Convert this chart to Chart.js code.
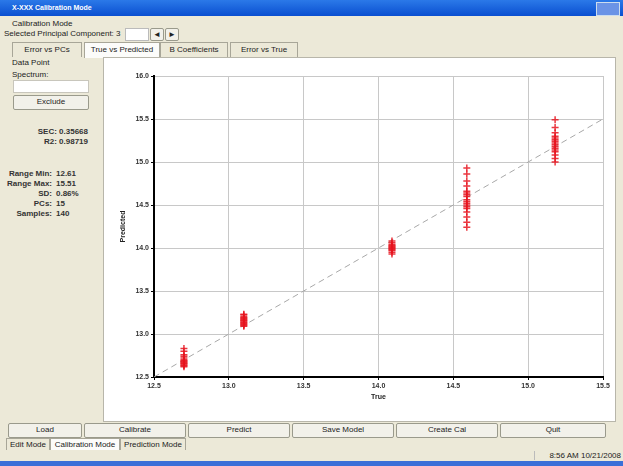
<!DOCTYPE html>
<html>
<head>
<meta charset="utf-8">
<script src="https://cdn.jsdelivr.net/npm/chart.js@4"></script>
<style>
  body { margin:0; width:623px; height:466px; background:#ece9d8; font-family:"Liberation Sans", Arial, sans-serif; font-size:8px; color:#222; position:relative; overflow:hidden; }
  .abs { position:absolute; }
  #titlebar { left:0; top:0; width:623px; height:16px; background:linear-gradient(#2b79e8,#0a4fd0); color:#fff; font-weight:bold; font-size:7px; line-height:16px; }
  #titlebar span { margin-left:12px; }
  #closebtn { right:3px; top:2px; width:22px; height:12px; background:#6a93e6; border:1px solid #cde; }
  .btn { background:#f2f1ea; border:1px solid #9a9a8c; border-radius:2px; text-align:center; line-height:12px; }
  .tab { border:1px solid #a8a698; border-bottom:none; text-align:center; line-height:13px; background:#ece9d8; }
  .tab.on { background:#fcfcfa; }
  #panel { left:103px; top:57px; width:511px; height:363px; background:#fff; border:1px solid #b8b6aa; }
  .r { text-align:right; }
  .b { font-weight:bold; color:#333; }
</style>
</head>
<body>
<div id="titlebar" class="abs"><span>X-XXX Calibration Mode</span></div>
<div id="closebtn" class="abs"></div>
<div class="abs" style="left:12px;top:19px;">Calibration Mode</div>
<div class="abs" style="left:4px;top:29px;">Selected Principal Component: 3</div>
<div class="abs" style="left:125px;top:28px;width:22px;height:11px;background:#fff;border:1px solid #bbb;"></div>
<div class="abs btn" style="left:150px;top:28px;width:12px;height:11px;line-height:11px;">◄</div>
<div class="abs btn" style="left:165px;top:28px;width:12px;height:11px;line-height:11px;">►</div>

<div class="abs tab" style="left:12px;top:42px;width:68px;height:14px;">Error vs PCs</div>
<div class="abs tab on" style="left:84px;top:42px;width:74px;height:15px;">True vs Predicted</div>
<div class="abs tab" style="left:160px;top:42px;width:66px;height:14px;">B Coefficients</div>
<div class="abs tab" style="left:230px;top:42px;width:66px;height:14px;">Error vs True</div>

<div class="abs" style="left:12px;top:58px;">Data Point</div>
<div class="abs" style="left:12px;top:70px;">Spectrum:</div>
<div class="abs" style="left:13px;top:80px;width:74px;height:11px;background:#fff;border:1px solid #c8c6bc;"></div>
<div class="abs btn" style="left:13px;top:95px;width:74px;height:13px;">Exclude</div>
<div class="abs r b" style="left:10px;top:127px;width:78px;">SEC: 0.35668</div>
<div class="abs r b" style="left:10px;top:137px;width:78px;">R2: 0.98719</div>
<div class="abs r b" style="left:2px;top:169px;width:50px;">Range Min:</div><div class="abs b" style="left:56px;top:169px;">12.61</div>
<div class="abs r b" style="left:2px;top:179px;width:50px;">Range Max:</div><div class="abs b" style="left:56px;top:179px;">15.51</div>
<div class="abs r b" style="left:2px;top:189px;width:50px;">SD:</div><div class="abs b" style="left:56px;top:189px;">0.86%</div>
<div class="abs r b" style="left:2px;top:199px;width:50px;">PCs:</div><div class="abs b" style="left:56px;top:199px;">15</div>
<div class="abs r b" style="left:2px;top:209px;width:50px;">Samples:</div><div class="abs b" style="left:56px;top:209px;">140</div>

<div id="panel" class="abs"><canvas id="chart" width="511" height="363"></canvas></div>

<div class="abs btn" style="left:8px;top:423px;width:72px;height:13px;">Load</div>
<div class="abs btn" style="left:84px;top:423px;width:100px;height:13px;">Calibrate</div>
<div class="abs btn" style="left:188px;top:423px;width:100px;height:13px;">Predict</div>
<div class="abs btn" style="left:292px;top:423px;width:100px;height:13px;">Save Model</div>
<div class="abs btn" style="left:396px;top:423px;width:100px;height:13px;">Create Cal</div>
<div class="abs btn" style="left:500px;top:423px;width:104px;height:13px;">Quit</div>

<div class="abs tab" style="left:6px;top:438px;width:42px;height:11px;line-height:11px;">Edit Mode</div>
<div class="abs tab on" style="left:50px;top:438px;width:68px;height:11px;line-height:11px;">Calibration Mode</div>
<div class="abs tab" style="left:120px;top:438px;width:64px;height:11px;line-height:11px;">Prediction Mode</div>
<div class="abs" style="left:534px;top:451px;width:86px;border-left:1px solid #bbb;text-align:right;">8:56 AM 10/21/2008</div>
<div class="abs" style="left:0;top:461px;width:623px;height:5px;background:#3a6fd8;"></div>

<script>
// true value per sample group and the predicted values
const trueVals = [12.70, 13.10, 14.09, 14.59, 15.18];
const predicted = [
  [12.62, 12.63, 12.64, 12.65, 12.66, 12.67, 12.68, 12.69, 12.70, 12.72, 12.74, 12.76, 12.80, 12.83],
  [13.09, 13.10, 13.11, 13.12, 13.13, 13.14, 13.15, 13.16, 13.17, 13.18, 13.19, 13.20, 13.22, 13.23],
  [13.93, 13.95, 13.97, 13.98, 13.99, 14.00, 14.01, 14.02, 14.03, 14.04, 14.06, 14.08],
  [14.24, 14.30, 14.36, 14.42, 14.46, 14.48, 14.50, 14.52, 14.54, 14.56, 14.60, 14.62, 14.64, 14.66, 14.72, 14.78, 14.86, 14.93],
  [15.00, 15.04, 15.08, 15.12, 15.14, 15.16, 15.18, 15.20, 15.22, 15.24, 15.26, 15.28, 15.30, 15.34, 15.40, 15.49]
];
const idealLine = [12.5, 15.5];

const pts = [];
trueVals.forEach((t, i) => predicted[i].forEach(p => pts.push({ x: t, y: p })));

const ctx = document.getElementById('chart');
const tickFont = { family: 'Liberation Sans', size: 7, weight: 'bold' };
new Chart(ctx, {
  type: 'scatter',
  data: {
    datasets: [{
      label: 'Samples',
      data: pts,
      pointStyle: 'cross',
      radius: 3.5,
      borderColor: 'rgba(230,20,30,0.85)',
      borderWidth: 1.5,
      backgroundColor: 'rgba(230,20,30,0.85)',
      order: 1
    }, {
      type: 'line',
      label: 'Ideal',
      data: idealLine.map(v => ({ x: v, y: v })),
      borderColor: '#a8a8a8',
      borderWidth: 1,
      borderDash: [6, 4],
      pointRadius: 0,
      order: 2
    }]
  },
  options: {
    responsive: false,
    animation: false,
    layout: { padding: { left: 15, top: 18, right: 12, bottom: 20 } },
    plugins: { legend: { display: false }, tooltip: { enabled: false } },
    scales: {
      x: {
        type: 'linear', min: 12.5, max: 15.5,
        ticks: { stepSize: 0.5, font: tickFont, color: '#333', padding: 2, callback: v => v.toFixed(1) },
        grid: { color: '#c8c8c8', tickLength: 3, tickColor: '#000' },
        border: { color: '#000', width: 2 },
        title: { display: true, text: 'True', font: tickFont, color: '#222', padding: 0 },
        afterFit: s => { s.height = 24; }
      },
      y: {
        type: 'linear', min: 12.5, max: 16.0,
        ticks: { stepSize: 0.5, font: tickFont, color: '#333', padding: 2, callback: v => v.toFixed(1) },
        grid: { color: '#c8c8c8', tickLength: 3, tickColor: '#000' },
        border: { color: '#000', width: 2 },
        title: { display: true, text: 'Predicted', font: tickFont, color: '#222', padding: 0 },
        afterFit: s => { s.width = 35; }
      }
    }
  }
});
</script>
</body>
</html>
